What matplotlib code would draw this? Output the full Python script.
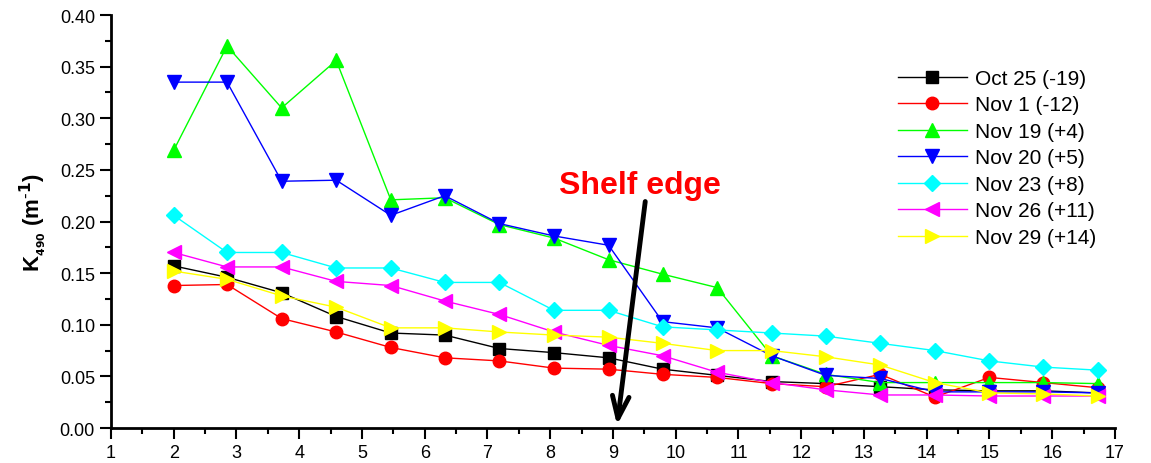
import matplotlib
matplotlib.use('Agg')
import matplotlib.pyplot as plt
from matplotlib.ticker import MultipleLocator

plt.rcParams['font.family'] = ['Liberation Sans', 'DejaVu Sans']

# station positions along the transect
x = [2.0, 2.85, 3.72, 4.59, 5.46, 6.32, 7.19, 8.06, 8.93, 9.79,
     10.66, 11.53, 12.39, 13.26, 14.13, 15.0, 15.86, 16.73]

oct25 = [0.157, 0.146, 0.131, 0.108, 0.092, 0.090, 0.077, 0.073, 0.068, 0.057,
         0.051, 0.045, 0.043, 0.040, 0.037, 0.036, 0.036, 0.034]
nov1 = [0.138, 0.139, 0.106, 0.093, 0.078, 0.068, 0.065, 0.058, 0.057, 0.052,
        0.049, 0.043, 0.040, 0.052, 0.030, 0.049, 0.044, 0.039]
nov19 = [0.269, 0.370, 0.310, 0.356, 0.221, 0.223, 0.197, 0.184, 0.163, 0.149,
         0.136, 0.070, 0.052, 0.044, 0.044, 0.044, 0.044, 0.043]
nov20 = [0.335, 0.335, 0.239, 0.240, 0.206, 0.225, 0.198, 0.186, 0.177, 0.103,
         0.097, 0.070, 0.051, 0.048, 0.035, 0.035, 0.035, 0.034]
nov23 = [0.206, 0.170, 0.170, 0.155, 0.155, 0.141, 0.141, 0.114, 0.114, 0.098,
         0.095, 0.092, 0.089, 0.082, 0.075, 0.065, 0.059, 0.056]
nov26 = [0.170, 0.156, 0.156, 0.142, 0.138, 0.123, 0.110, 0.093, 0.080, 0.070,
         0.054, 0.044, 0.037, 0.032, 0.032, 0.031, 0.031, 0.031]
nov29 = [0.152, 0.144, 0.128, 0.117, 0.097, 0.097, 0.093, 0.090, 0.088, 0.082,
         0.075, 0.075, 0.069, 0.061, 0.044, 0.034, 0.033, 0.031]

series = [oct25, nov1, nov19, nov20, nov23, nov26, nov29]
labels = ['Oct 25 (-19)', 'Nov 1 (-12)', 'Nov 19 (+4)', 'Nov 20 (+5)',
          'Nov 23 (+8)', 'Nov 26 (+11)', 'Nov 29 (+14)']
colors = ['#000000', '#FF0000', '#00FF00', '#0000FF', '#00FFFF', '#FF00FF', '#FFFF00']
markers = ['s', 'o', '^', 'v', 'D', '<', '>']
msizes = [8, 9, 10, 10, 8, 10, 10]

fig = plt.figure(figsize=(11.51, 4.64), dpi=100)
ax = fig.add_axes([0.0964, 0.0754, 0.8723, 0.8901])

for y, lab, c, m, ms in zip(series, labels, colors, markers, msizes):
    ax.plot(x, y, color=c, lw=1, marker=m, markersize=ms, markerfacecolor=c,
            markeredgecolor=c, label=lab)

ax.set_xlim(1, 17)
ax.set_ylim(0, 0.40)
ax.xaxis.set_major_locator(MultipleLocator(1))
ax.xaxis.set_minor_locator(MultipleLocator(0.5))
ax.yaxis.set_major_locator(MultipleLocator(0.05))
ax.yaxis.set_minor_locator(MultipleLocator(0.025))
ax.yaxis.set_major_formatter(plt.FuncFormatter(lambda v, p: '%.2f' % v))
ax.tick_params(which='major', length=8, width=1.5, labelsize=13, direction='out')
ax.tick_params(which='minor', length=4, width=1.5, direction='out')
ax.spines['top'].set_visible(False)
ax.spines['right'].set_visible(False)
ax.spines['left'].set_linewidth(2)
ax.spines['bottom'].set_linewidth(2)

ax.set_ylabel('K$_{\\mathbf{_{490}}}$ (m$^{\\mathbf{\\text{-}1}}$)', fontsize=16,
              fontweight='bold', labelpad=8)

ax.annotate('', xy=(9.06, 0.0), xytext=(9.52, 0.222),
            arrowprops=dict(arrowstyle='->,head_length=1.6,head_width=0.6',
                            color='black', lw=3.5))
ax.text(9.43, 0.235, 'Shelf edge', color='red', fontsize=23, fontweight='bold',
        ha='center', va='center')

ax.legend(loc='upper right', bbox_to_anchor=(1.0, 0.915), frameon=False,
          fontsize=15, handlelength=3.3, labelspacing=0.36, handletextpad=0.4)

fig.savefig('out.png', dpi=100)
